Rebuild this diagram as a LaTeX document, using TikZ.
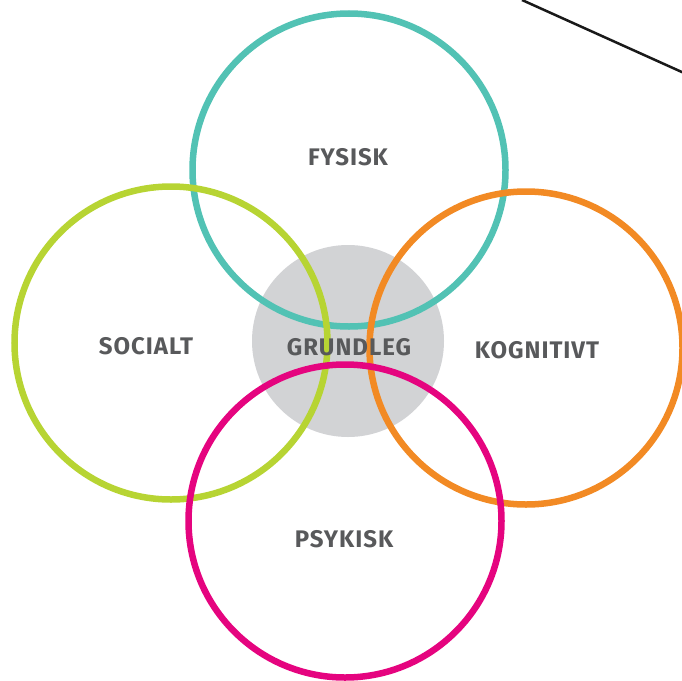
\documentclass[tikz,border=0pt]{standalone}
\usepackage{fontspec}
\setmainfont{Fira Sans}
\newfontfamily\areafont[LetterSpace=4]{Fira Sans}
\usetikzlibrary{positioning}

\definecolor{fysiskcol}{HTML}{52C2B4}
\definecolor{socialcol}{HTML}{B7D433}
\definecolor{kogncol}{HTML}{F28A24}
\definecolor{psykcol}{HTML}{E5047F}
\definecolor{basecol}{HTML}{D2D3D5}
\definecolor{labelcol}{HTML}{58595B}

\begin{document}
\begin{tikzpicture}[
        x = 1pt, y = -1pt,
        ring/.style = {
                circle, draw = #1, line width = 6.5pt,
                minimum size = 313pt, inner sep = 0pt
            },
        core/.style = {
                circle, fill = basecol,
                minimum size = 192pt, inner sep = 0pt
            },
        area/.style = {
                text = labelcol, font = \areafont\fontsize{24}{24}\selectfont\bfseries
            }
    ]

    \useasboundingbox (0,0) rectangle (682,680);

    \node[core] (grundlag) at (348,341) {};

    \node[ring = fysiskcol] (fysiskring) at (349,170) {};
    \node[ring = socialcol] (socialring) at (171,343) {};
    \node[ring = kogncol]   (kognring)   at (526,348) {};
    \node[ring = psykcol]   (psykring)   at (345,521) {};

    \node[area] (fysisk)  at (348,157) {FYSISK};
    \node[area] (social)  at (146,346) {SOCIALT};
    \node[area] (kogn)    at (537,350) {KOGNITIVT};
    \node[area] (psyk)    at (344,539) {PSYKISK};
    \node[area] (grundleg) at (349,347) {GRUNDLEG};

    % corner line
    \coordinate (lineA) at (522,0);
    \coordinate (lineB) at (684,73);
    \draw[line width = 2.5pt, black!90] (lineA) -- (lineB);

\end{tikzpicture}
\end{document}
